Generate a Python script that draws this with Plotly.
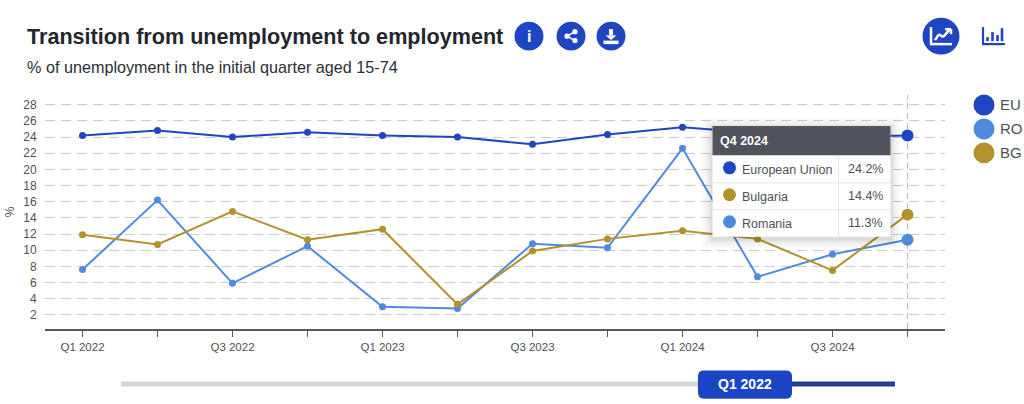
import plotly.graph_objects as go

quarters = ["Q1 2022", "Q2 2022", "Q3 2022", "Q4 2022", "Q1 2023", "Q2 2023",
            "Q3 2023", "Q4 2023", "Q1 2024", "Q2 2024", "Q3 2024", "Q4 2024"]
tick_labels = ["Q1 2022", "", "Q3 2022", "", "Q1 2023", "", "Q3 2023", "", "Q1 2024", "", "Q3 2024", ""]
eu_values = [24.2, 24.8, 24.0, 24.6, 24.2, 24.0, 23.1, 24.3, 25.2, 24.5, 24.0, 24.2]
ro_values = [7.6, 16.2, 5.9, 10.5, 3.0, 2.8, 10.8, 10.3, 22.6, 6.7, 9.5, 11.3]
bg_values = [11.9, 10.7, 14.8, 11.3, 12.6, 3.3, 9.9, 11.4, 12.4, 11.4, 7.5, 14.4]
y_ticks = [2, 4, 6, 8, 10, 12, 14, 16, 18, 20, 22, 24, 26, 28]

EU, RO, BG = "#1f45c2", "#4f8ade", "#b3922e"
W, H = 1024, 404
L, R, T, B = 45, 945, 95, 329.5
FONT = "Liberation Sans"
GREY = "#4d5156"


def px(x):
    return (x - L) / (R - L)


def py(y):
    return (B - y) / (B - T)


shapes = []
annotations = []


def rect(x0, y0, x1, y1, fill, line=None):
    shapes.append(dict(type="rect", xref="paper", yref="paper", layer="above",
                       x0=px(x0), x1=px(x1), y0=py(y1), y1=py(y0), fillcolor=fill,
                       line=dict(width=1 if line else 0, color=line or "rgba(0,0,0,0)")))


def circle(cx, cy, r, fill):
    shapes.append(dict(type="circle", xref="paper", yref="paper", layer="above",
                       x0=px(cx - r), x1=px(cx + r), y0=py(cy + r), y1=py(cy - r),
                       fillcolor=fill, line=dict(width=0)))


def seg(x0, y0, x1, y1, color, width=1.0):
    shapes.append(dict(type="line", xref="paper", yref="paper", layer="above",
                       x0=px(x0), x1=px(x1), y0=py(y0), y1=py(y1),
                       line=dict(color=color, width=width)))


def text(x, y, s, size, color, anchor="left", bold=False):
    annotations.append(dict(xref="paper", yref="paper", x=px(x), y=py(y), showarrow=False,
                            text=f"<b>{s}</b>" if bold else s, xanchor=anchor, yanchor="middle",
                            align=anchor, borderpad=0,
                            font=dict(family=FONT, size=size, color=color)))


fig = go.Figure()
for name, vals, col in [("European Union", eu_values, EU), ("Romania", ro_values, RO), ("Bulgaria", bg_values, BG)]:
    fig.add_trace(go.Scatter(x=quarters, y=vals, name=name, mode="lines+markers",
                             line=dict(color=col, width=2),
                             marker=dict(color=col, size=[7] * 11 + [12], opacity=1, line=dict(width=0)),
                             showlegend=False, hoverinfo="skip"))

# crosshair
shapes.append(dict(type="line", xref="x", yref="paper", x0="Q4 2024", x1="Q4 2024", y0=0, y1=1,
                   layer="below", line=dict(color="#b8bcc0", width=1, dash="6px,4px")))

# header
text(26, 36, "Transition from unemployment to employment", 21.6, "#23262c", bold=True)
text(26, 67, "% of unemployment in the initial quarter aged 15-74", 16.2, "#2c2f35")

# header buttons
for cx in (529, 571, 611):
    circle(cx, 36, 14.5, EU)
text(529, 36.5, "i", 16, "#ffffff", anchor="center", bold=True)
# share glyph
seg(567, 36, 575, 31.5, "#ffffff", 1.5)
seg(567, 36, 575, 40.5, "#ffffff", 1.5)
circle(567, 36, 2.6, "#ffffff")
circle(575, 31.5, 2.6, "#ffffff")
circle(575, 40.5, 2.6, "#ffffff")
# download glyph
rect(609, 29, 613, 35, "#ffffff")
shapes.append(dict(type="path", xref="paper", yref="paper", layer="above", fillcolor="#ffffff", line=dict(width=0),
                   path=f"M {px(605.5)} {py(35)} L {px(616.5)} {py(35)} L {px(611)} {py(40)} Z"))
rect(603.5, 40.5, 618.5, 44, "#ffffff")

# chart-type buttons
circle(941, 36, 18.5, EU)
seg(931, 27, 931, 44, "#ffffff", 2.5)
seg(930, 44, 952, 44, "#ffffff", 2.5)
for a, b, c, d in [(935, 40, 939, 34), (939, 34, 943, 37), (943, 37, 950, 29), (945, 29, 951, 29), (951, 29, 951, 34)]:
    seg(a, b, c, d, "#ffffff", 2.5)
seg(983, 27, 983, 44, EU, 2.2)
seg(982, 44, 1005, 44, EU, 2.2)
for x0, top in [(987.5, 37), (992.5, 32), (997.5, 35), (1002, 28)]:
    seg(x0, 41, x0, top, EU, 2.6)

# legend
for cy, col, lab in [(105, EU, "EU"), (129, RO, "RO"), (153, BG, "BG")]:
    circle(984, cy, 10.5, col)
    text(999, cy, lab, 15, GREY)

# tooltip
for grow, alpha in [(10, 0.02), (7, 0.03), (4, 0.04), (2, 0.05)]:
    rect(712.5 - grow, 126 - grow + 2, 890.5 + grow, 237 + grow + 2, f"rgba(0,0,0,{alpha})")
rect(712.5, 126, 890.5, 237, "#ffffff")
rect(712.5, 126, 890.5, 155.5, "#50525c")
seg(712.5, 183, 890.5, 183, "#e3e4e6")
seg(712.5, 210, 890.5, 210, "#e3e4e6")
seg(838.5, 155.5, 838.5, 237, "#e3e4e6")
text(719, 141, "Q4 2024", 12.5, "#ffffff", bold=True)
for cy, col, lab, val in [(169.5, EU, "European Union", eu_values[-1]),
                          (196.5, BG, "Bulgaria", bg_values[-1]),
                          (223.5, RO, "Romania", ro_values[-1])]:
    circle(729.5, cy - 1.5, 6.5, col)
    text(741, cy + 1, lab, 12.5, GREY)
    text(884, cy, f"{val}%", 12.5, GREY, anchor="right")

# time slider
seg(121, 384.5, 700, 384.5, "#d5d8dc", 5)
seg(790, 384.5, 895, 384.5, "#233f9e", 5)
x0, x1, y0, y1, r = 698, 792, 371, 399.5, 6
shapes.append(dict(type="path", xref="paper", yref="paper", layer="above", fillcolor="#1c45c4", line=dict(width=0),
                   path=(f"M {px(x0 + r)} {py(y0)} L {px(x1 - r)} {py(y0)} Q {px(x1)} {py(y0)} {px(x1)} {py(y0 + r)} "
                         f"L {px(x1)} {py(y1 - r)} Q {px(x1)} {py(y1)} {px(x1 - r)} {py(y1)} "
                         f"L {px(x0 + r)} {py(y1)} Q {px(x0)} {py(y1)} {px(x0)} {py(y1 - r)} "
                         f"L {px(x0)} {py(y0 + r)} Q {px(x0)} {py(y0)} {px(x0 + r)} {py(y0)} Z")))
text(745, 385, "Q1 2022", 14, "#ffffff", anchor="center", bold=True)

fig.update_layout(
    width=W, height=H, autosize=False,
    margin=dict(l=L, r=W - R, t=T, b=H - B, pad=0, autoexpand=False),
    paper_bgcolor="#ffffff", plot_bgcolor="#ffffff",
    font=dict(family=FONT, color=GREY),
    shapes=shapes, annotations=annotations,
    xaxis=dict(type="category", categoryorder="array", categoryarray=quarters, range=[-0.5, 11.5],
               automargin=False,
               tickmode="array", tickvals=quarters, ticktext=tick_labels,
               showgrid=False, zeroline=False, showline=True, linecolor="#55585d", linewidth=1.5,
               ticks="outside", ticklen=6, tickwidth=1, tickcolor="#55585d",
               tickfont=dict(family=FONT, size=11.5, color=GREY)),
    yaxis=dict(range=[0.25, 29.2], tickmode="array", tickvals=y_ticks, automargin=False,
               showgrid=True, gridcolor="#c9cbcd", gridwidth=1, griddash="10px,6px",
               zeroline=False, showline=False, ticks="outside", ticklen=5, tickcolor="rgba(0,0,0,0)",
               tickfont=dict(family=FONT, size=12, color=GREY),
               title=dict(text="%", font=dict(family=FONT, size=12, color=GREY), standoff=6)),
)
fig.write_html("out.html", config={"displayModeBar": False},
               post_script="document.body.style.margin='0';document.documentElement.style.overflow='hidden';")
